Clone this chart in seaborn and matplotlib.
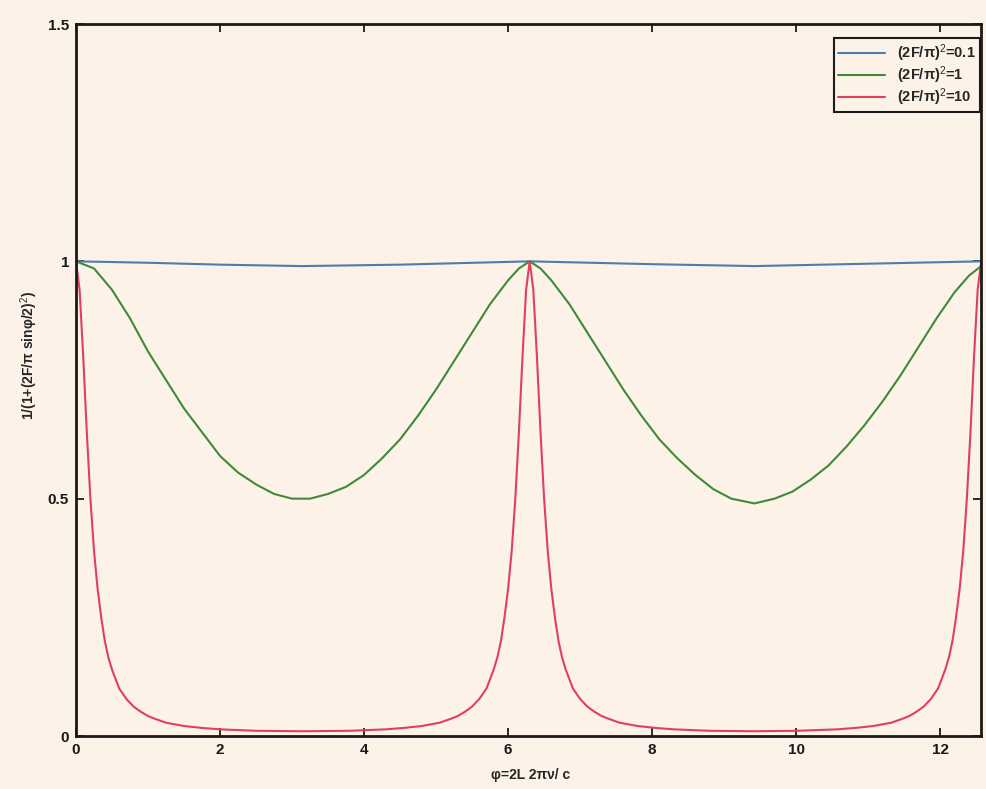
import numpy as np
import pandas as pd
import matplotlib
matplotlib.use("Agg")
import matplotlib.pyplot as plt
import seaborn as sns

# ---- data ----
blue_x = [0.0, 1.0, 2.0, 3.14, 4.5, 6.30, 8.0, 9.42, 11.0, 12.57]
blue_y = [1.0, 0.997, 0.993, 0.990, 0.993, 1.0, 0.994, 0.990, 0.995, 1.0]

green_x = [0.0, 0.25, 0.5, 0.75, 1.0, 1.25, 1.5, 1.75, 2.0, 2.25, 2.5, 2.75, 3.0, 3.14,
           3.25, 3.5, 3.75, 4.0, 4.25, 4.5, 4.75, 5.0, 5.25, 5.5, 5.75, 6.0, 6.15, 6.30,
           6.45, 6.6, 6.85, 7.1, 7.35, 7.6, 7.85, 8.1, 8.35, 8.6, 8.85, 9.1, 9.42, 9.7,
           9.95, 10.2, 10.45, 10.7, 10.95, 11.2, 11.45, 11.7, 11.95, 12.2, 12.4, 12.57]
green_y = [1.00, 0.985, 0.94, 0.88, 0.81, 0.75, 0.69, 0.64, 0.59, 0.555, 0.53, 0.51, 0.50, 0.50,
           0.50, 0.51, 0.525, 0.55, 0.585, 0.625, 0.675, 0.73, 0.79, 0.85, 0.91, 0.96, 0.985, 1.00,
           0.985, 0.96, 0.91, 0.85, 0.79, 0.73, 0.675, 0.625, 0.585, 0.55, 0.52, 0.50, 0.49, 0.50,
           0.515, 0.54, 0.57, 0.61, 0.655, 0.705, 0.76, 0.82, 0.88, 0.935, 0.97, 0.99]

red_x = [0.0, 0.05, 0.10, 0.15, 0.20, 0.25, 0.30, 0.35, 0.40, 0.45, 0.50, 0.60, 0.70, 0.80,
         0.90, 1.00, 1.10, 1.25, 1.50, 1.75, 2.00, 2.50, 3.14, 3.80, 4.30, 4.55, 4.80, 5.05,
         5.20, 5.30, 5.40, 5.50, 5.60, 5.70, 5.80, 5.85, 5.90, 5.95, 6.00, 6.05, 6.10, 6.15,
         6.20, 6.25, 6.30, 6.35, 6.40, 6.45, 6.50, 6.55, 6.60, 6.65, 6.70, 6.75, 6.80, 6.90,
         7.00, 7.10, 7.20, 7.30, 7.40, 7.55, 7.80, 8.05, 8.30, 8.80, 9.42, 10.0, 10.57, 10.82,
         11.07, 11.32, 11.47, 11.57, 11.67, 11.77, 11.87, 11.97, 12.02, 12.07, 12.12, 12.17,
         12.22, 12.27, 12.32, 12.37, 12.42, 12.47, 12.52, 12.57]
red_y = [1.00, 0.94, 0.80, 0.64, 0.50, 0.39, 0.31, 0.25, 0.20, 0.165, 0.14, 0.10, 0.078, 0.062,
         0.051, 0.042, 0.036, 0.028, 0.021, 0.017, 0.014, 0.011, 0.010, 0.011, 0.014, 0.017, 0.021, 0.028,
         0.036, 0.042, 0.051, 0.062, 0.078, 0.10, 0.14, 0.165, 0.20, 0.25, 0.31, 0.39, 0.50, 0.64,
         0.80, 0.94, 1.00, 0.94, 0.80, 0.64, 0.50, 0.39, 0.31, 0.25, 0.20, 0.165, 0.14, 0.10,
         0.078, 0.062, 0.051, 0.042, 0.036, 0.028, 0.021, 0.017, 0.014, 0.011, 0.010, 0.011, 0.014, 0.017,
         0.021, 0.028, 0.036, 0.042, 0.051, 0.062, 0.078, 0.10, 0.12, 0.14, 0.165, 0.20,
         0.25, 0.31, 0.39, 0.50, 0.64, 0.80, 0.94, 1.00]

series_labels = ["(2F/π)$^2$=0.1", "(2F/π)$^2$=1", "(2F/π)$^2$=10"]
series_colors = ["#4d7cb0", "#3f8a3a", "#e0405c"]

x_ticks = [0, 2, 4, 6, 8, 10, 12]
y_ticks = [0, 0.5, 1, 1.5]
y_ticklabels = ["0", "0.5", "1", "1.5"]
x_label = "φ=2L 2πν/ c"
y_label = "1/(1+(2F/π sinφ/2)$^2$)"

# ---- build long table ----
frames = []
for xs, ys, lab in zip([blue_x, green_x, red_x], [blue_y, green_y, red_y], series_labels):
    frames.append(pd.DataFrame({"x": xs, "y": ys, "series": lab}))
df = pd.concat(frames, ignore_index=True)

sns.set_style("ticks")
bg = "#fcf2e8"
plt.rcParams["font.family"] = ["Liberation Sans", "DejaVu Sans"]
plt.rcParams["mathtext.fontset"] = "custom"
plt.rcParams["mathtext.rm"] = "Liberation Sans"
plt.rcParams["mathtext.it"] = "Liberation Sans:italic"
plt.rcParams["mathtext.bf"] = "Liberation Sans:bold"

fig = plt.figure(figsize=(9.86, 7.89), dpi=100, facecolor=bg)
ax = fig.add_axes([76 / 986, 53 / 789, 905 / 986, 712 / 789])
ax.set_facecolor(bg)

sns.lineplot(data=df, x="x", y="y", hue="series", hue_order=series_labels,
             palette=dict(zip(series_labels, series_colors)), sort=False,
             estimator=None, linewidth=1.5, ax=ax)

ax.set_xlim(0, 4 * np.pi)
ax.set_ylim(0, 1.5)
ax.set_xticks(x_ticks)
ax.set_xticklabels([str(t) for t in x_ticks], fontsize=11, fontweight="bold")
ax.set_yticks(y_ticks)
ax.set_yticklabels(y_ticklabels, fontsize=11, fontweight="bold")
ax.tick_params(direction="in", length=6, width=1.3, top=True, right=True, pad=5,
               colors="#1a1a1a")
for s in ax.spines.values():
    s.set_visible(True)
    s.set_linewidth(2.0)
    s.set_color("#1a1a1a")

ax.set_xlabel(x_label, fontsize=10, fontweight="bold")
ax.xaxis.set_label_coords(0.502, -0.045)
ax.set_ylabel(y_label, fontsize=10, fontweight="bold")
ax.yaxis.set_label_coords(-0.04, 0.535)

leg = ax.legend(loc="upper right", bbox_to_anchor=(1.0, 0.982), fontsize=10.5,
                frameon=True, fancybox=False, edgecolor="#1a1a1a",
                facecolor=bg, framealpha=1, handlelength=3.2, handletextpad=0.8,
                borderpad=0.3, borderaxespad=0.1, labelspacing=0.02, title=None)
leg.get_frame().set_linewidth(1.5)
for t in leg.get_texts():
    t.set_fontweight("bold")

fig.savefig("out.png", dpi=100, facecolor=bg)
